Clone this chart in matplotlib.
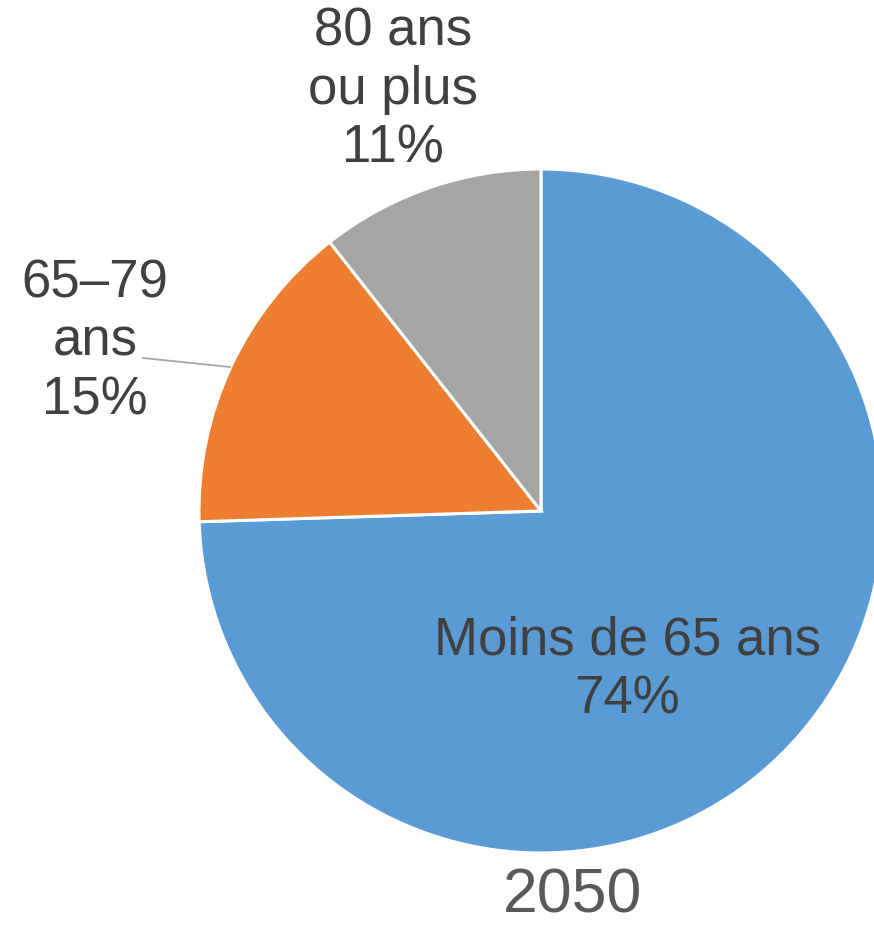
import matplotlib
matplotlib.use("Agg")
import matplotlib.pyplot as plt

labels = ["Moins de 65 ans", "65\u201379\nans", "80 ans\nou plus"]
shares = [74.5, 14.9, 10.6]
pct_text = ["74%", "15%", "11%"]
colors = ["#5B9BD5", "#ED7D31", "#A5A5A5"]
year = "2050"

plt.rcParams["font.family"] = ["Liberation Sans", "DejaVu Sans"]


def main():
    fig = plt.figure(figsize=(8.74, 9.26), dpi=100)
    ax = fig.add_axes([0, 0, 1, 1])

    cx, cy, r = 541, 926 - 511, 342
    ax.pie(shares, colors=colors, startangle=90, counterclock=False,
           center=(cx, cy), radius=r, frame=True,
           wedgeprops=dict(edgecolor="white", linewidth=2.2))
    ax.set_xlim(0, 874)
    ax.set_ylim(0, 926)
    ax.set_aspect("equal")
    ax.axis("off")

    txt = dict(fontsize=38, color="#404040", ha="center", va="center",
               linespacing=1.22)
    ax.text(627, 926 - 670, f"{labels[0]}\n{pct_text[0]}", **txt)
    ax.text(95, 926 - 342, f"{labels[1]}\n{pct_text[1]}", **txt)
    ax.text(393, 926 - 90, f"{labels[2]}\n{pct_text[2]}", **txt)

    # leader line for the 65-79 label
    ax.plot([143, 230], [926 - 358, 926 - 367], color="#A6A6A6", lw=1.3)

    ax.text(573, 926 - 896, year, fontsize=45, color="#595959",
            ha="center", va="center")

    fig.savefig("out.png", dpi=100)


if __name__ == "__main__":
    main()
